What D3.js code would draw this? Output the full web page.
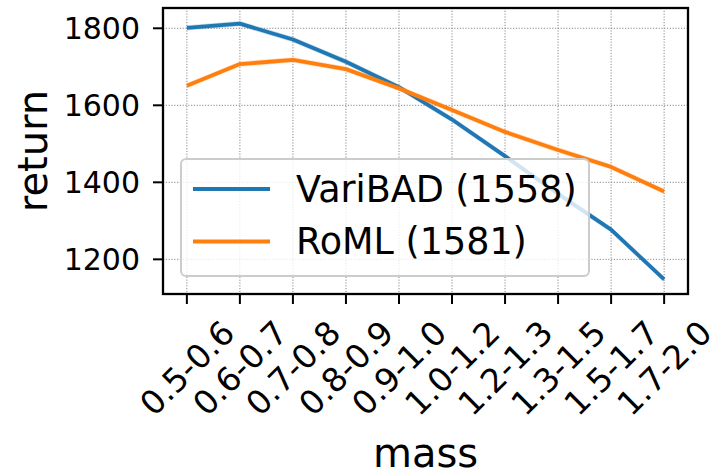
<!DOCTYPE html>
<html lang="en">
<head>
<meta charset="UTF-8">
<title>return vs mass</title>
<script src="https://cdnjs.cloudflare.com/ajax/libs/d3/7.8.5/d3.min.js"></script>
<style>
  body { margin: 0; background: #fff; }
  svg text { font-family: "DejaVu Sans", sans-serif; fill: #000; }
  .grid line { stroke: #888; stroke-width: 1; stroke-dasharray: 1.2,1.6; }
</style>
</head>
<body>
<svg id="chart" width="723" height="476"></svg>
<script>
// data
const massBins = ["0.5-0.6", "0.6-0.7", "0.7-0.8", "0.8-0.9", "0.9-1.0",
                  "1.0-1.2", "1.2-1.3", "1.3-1.5", "1.5-1.7", "1.7-2.0"];
const varibad = [1801, 1812, 1771, 1713, 1647, 1563, 1468, 1370, 1277, 1148];
const roml    = [1651, 1707, 1718, 1694, 1644, 1588, 1531, 1484, 1440, 1376];
const seriesNames = ["VariBAD (1558)", "RoML (1581)"];
const seriesColors = ["#1f77b4", "#ff7f0e"];
const yTicks = [1200, 1400, 1600, 1800];

const plotL = 163, plotR = 688, plotT = 8, plotB = 294;
const svg = d3.select("#chart");

const x = d3.scalePoint().domain(massBins).range([plotL, plotR]).padding(0.45);
const y = d3.scaleLinear().domain([1110, 1852.7]).range([plotB, plotT]);

// grid
const grid = svg.append("g").attr("class", "grid");
grid.selectAll(".gx").data(massBins).enter().append("line")
    .attr("x1", d => x(d)).attr("x2", d => x(d))
    .attr("y1", plotT).attr("y2", plotB);
grid.selectAll(".gy").data(yTicks).enter().append("line")
    .attr("x1", plotL).attr("x2", plotR)
    .attr("y1", d => y(d)).attr("y2", d => y(d));

// lines with a faint band
const series = [varibad, roml];
const line = d3.line().x((d, i) => x(massBins[i])).y(d => y(d));
const band = d3.area().x((d, i) => x(massBins[i]))
    .y0(d => y(d - 7)).y1(d => y(d + 7));
series.forEach((vals, k) => {
  svg.append("path").datum(vals).attr("d", band)
     .attr("fill", seriesColors[k]).attr("opacity", 0.25);
  svg.append("path").datum(vals).attr("d", line)
     .attr("fill", "none").attr("stroke", seriesColors[k])
     .attr("stroke-width", 3.8).attr("stroke-linejoin", "round");
});

// frame
svg.append("rect").attr("x", plotL).attr("y", plotT)
   .attr("width", plotR - plotL).attr("height", plotB - plotT)
   .attr("fill", "none").attr("stroke", "#000").attr("stroke-width", 2.3);

// y axis
const yAxis = svg.append("g");
yAxis.selectAll("line").data(yTicks).enter().append("line")
    .attr("x1", plotL - 10).attr("x2", plotL)
    .attr("y1", d => y(d)).attr("y2", d => y(d))
    .attr("stroke", "#000").attr("stroke-width", 2);
yAxis.selectAll("text").data(yTicks).enter().append("text")
    .attr("x", plotL - 23).attr("y", d => y(d)).attr("dy", "0.36em")
    .attr("text-anchor", "end").style("font-size", "30px")
    .text(d => d);

// x axis
const xAxis = svg.append("g");
xAxis.selectAll("line").data(massBins).enter().append("line")
    .attr("x1", d => x(d)).attr("x2", d => x(d))
    .attr("y1", plotB).attr("y2", plotB + 10)
    .attr("stroke", "#000").attr("stroke-width", 2);
const fs = 33;
xAxis.selectAll("text").data(massBins).enter().append("text")
    .attr("text-anchor", "middle").attr("dy", "0.36em")
    .style("font-size", fs + "px")
    .text(d => d)
    .attr("transform", function(d) {
      const len = this.getComputedTextLength();
      const half = (len + fs * 0.73) * Math.SQRT1_2 / 2;
      return `translate(${x(d)},${plotB + 24 + half}) rotate(-45)`;
    });

// axis labels
svg.append("text").attr("x", (plotL + plotR) / 2).attr("y", 467)
   .attr("text-anchor", "middle").style("font-size", "40px").text("mass");
svg.append("text").attr("transform", `translate(47,${(plotT + plotB) / 2}) rotate(-90)`)
   .attr("text-anchor", "middle").style("font-size", "40px").text("return");

// legend
const lg = svg.append("g");
lg.append("rect").attr("x", 181).attr("y", 159).attr("width", 408).attr("height", 117)
  .attr("rx", 5).attr("fill", "#fff").attr("fill-opacity", 0.8)
  .attr("stroke", "#ccc").attr("stroke-width", 2);
seriesNames.forEach((name, k) => {
  const yy = 189 + k * 52.5;
  lg.append("line").attr("x1", 193).attr("x2", 270).attr("y1", yy).attr("y2", yy)
    .attr("stroke", seriesColors[k]).attr("stroke-width", 3.8);
  lg.append("text").attr("x", 296).attr("y", yy + 12.5)
    .style("font-size", "36.5px").text(name);
});
</script>
</body>
</html>
